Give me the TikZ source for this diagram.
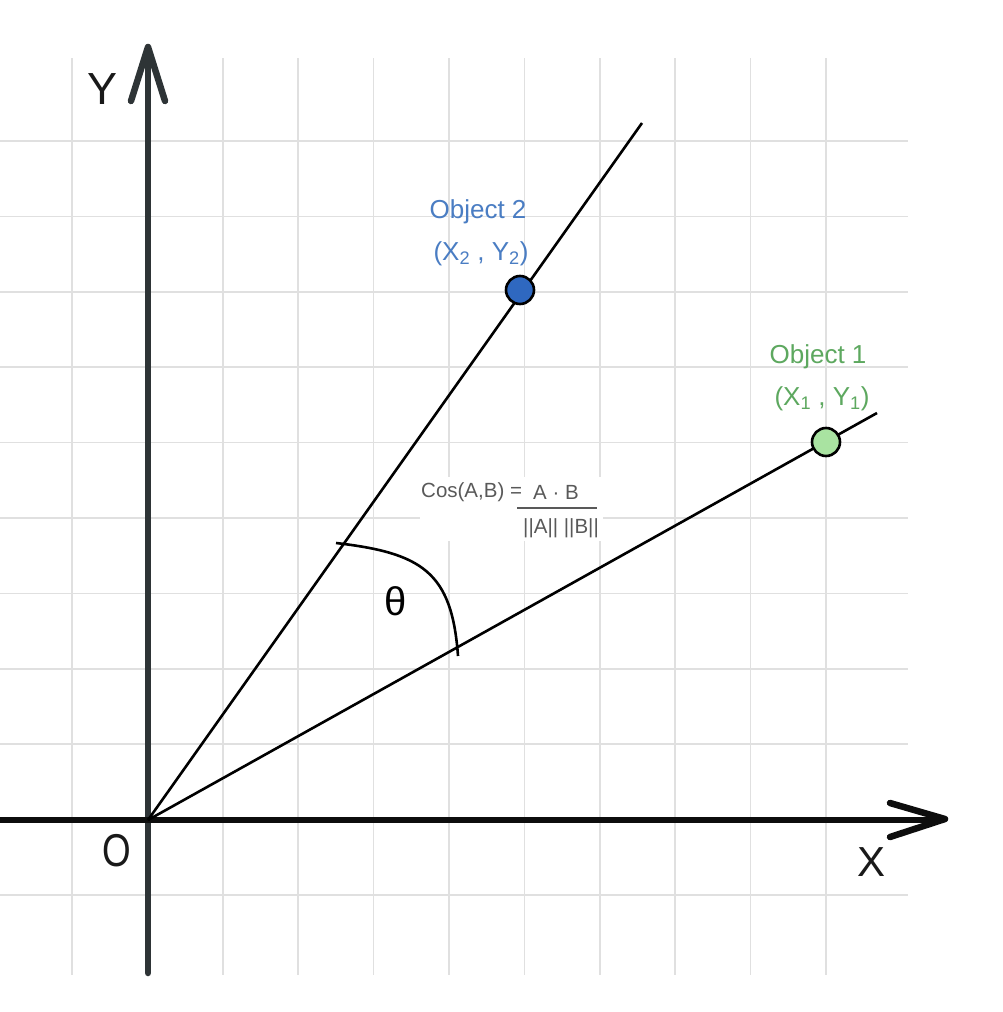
\documentclass[tikz,border=0pt]{standalone}
\usepackage{fontspec}
\setmainfont{Liberation Sans}
\begin{document}
\begin{tikzpicture}[x=1pt,y=-1pt,
  gridline/.style={draw=black!12,line width=1.6pt},
  axisline/.style={draw=axisgray,line width=6.5pt,line cap=round,line join=round},
  vecline/.style={draw=black,line width=2.6pt},
  dot/.style={circle,draw=black,line width=2.6pt,minimum size=28pt,inner sep=0pt},
  lbl/.style={font=\fontsize{26}{28}\selectfont,inner sep=0pt},
  hand/.style={inner sep=0pt,text=black!90},
  formula/.style={font=\fontsize{20.5}{22}\selectfont,text=black!65,inner sep=0pt}]
\definecolor{axisgray}{HTML}{2E3436}
\definecolor{objblue}{HTML}{4A7DC3}
\definecolor{objgreen}{HTML}{5DA85F}
\definecolor{dotblue}{HTML}{2F68C0}
\definecolor{dotgreen}{HTML}{A9E3A1}
\useasboundingbox[fill=white] (0,0) rectangle (1002,1012);
% grid
\foreach \k in {0,...,10} {
  \draw[gridline] ({72+75.4*\k},58) -- ({72+75.4*\k},975);
  \draw[gridline] (0,{141+75.4*\k}) -- (908,{141+75.4*\k});
}
% formula background
\fill[white] (420,477) rectangle (603,541);
% coordinates
\coordinate (O) at (148,820);
\coordinate (P2) at (642,123);
\coordinate (P1) at (877,413);
\coordinate (ybot) at (148,973);
\coordinate (ytop) at (148,50);
\coordinate (xleft) at (0,820);
\coordinate (xright) at (940,820);
% axes
\draw[axisline] (ybot) -- (ytop);
\draw[axisline] (131,101) -- (148,47) -- (165,101);
\draw[axisline,draw=black!95] (xleft) -- (xright);
\draw[axisline,draw=black!95] (890,803) -- (945,819) -- (890,837);
% vectors
\draw[vecline] (O) -- (P2);
\draw[vecline] (O) -- (P1);
% angle arc
\coordinate (a1) at (336,543);
\coordinate (a2) at (458,656);
\draw[vecline] (a1) .. controls (422,553) and (452,572) .. (a2);
\node[font=\fontsize{40}{40}\selectfont,inner sep=0pt] (theta) at (396,601) {θ};
% dots
\node[dot,fill=dotblue] (obj2) at (520,290) {};
\node[dot,fill=dotgreen] (obj1) at (826,442) {};
% labels
\node[lbl,text=objblue] (obj2name) at (478,212) {Object 2};
\node[lbl,text=objblue] (obj2coord) at (481,254) {(X\textsubscript{2} , Y\textsubscript{2})};
\node[lbl,text=objgreen] (obj1name) at (818,357) {Object 1};
\node[lbl,text=objgreen] (obj1coord) at (822,399) {(X\textsubscript{1} , Y\textsubscript{1})};
% formula
\node[formula,anchor=west] (cosl) at (421,492) {Cos(A,B) =};
\node[formula] (num) at (556,492) {A · B};
\draw[draw=black!65,line width=1.3pt] (517,508) -- (597,508);
\node[formula] (den) at (561,528) {||A|| ||B||};
% axis labels
\node[hand,font=\fontsize{45}{45}\selectfont] (ylab) at (103,89) {Y};
\node[hand,font=\fontsize{46}{46}\selectfont] (olab) at (117,851) {\scalebox{0.8}[1]{O}};
\node[hand,font=\fontsize{42}{42}\selectfont] (xlab) at (871,862) {X};
\end{tikzpicture}
\end{document}
